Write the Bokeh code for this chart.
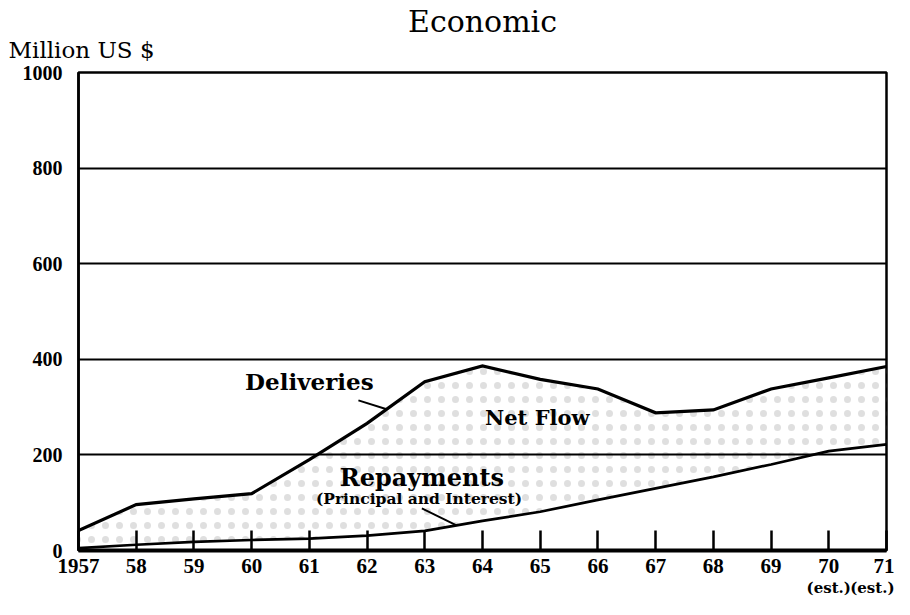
import numpy as np
from bokeh.plotting import figure
from bokeh.models import Range1d, FixedTicker, Label, ColumnDataSource, LinearAxis, Title
from bokeh.embed import file_html
from bokeh.resources import INLINE

# ---- data (million US $) ----
years = [1957, 1958, 1959, 1960, 1961, 1962, 1963, 1964, 1965, 1966, 1967, 1968, 1969, 1970, 1971]
deliveries = [42, 96, 108, 119, 190, 266, 353, 386, 358, 338, 288, 294, 338, 361, 385]
repayments = [5, 12, 18, 22, 25, 31, 41, 62, 81, 106, 130, 154, 180, 208, 222]
year_labels = ["1957", "58", "59", "60", "61", "62", "63", "64", "65", "66", "67", "68", "69", "70", "71"]
y_ticks = [0, 200, 400, 600, 800, 1000]
est_years = [1970, 1971]

SERIF = "DejaVu Serif"
TICKF = "Liberation Serif"

p = figure(width=894, height=599, x_range=Range1d(1957, 1971), y_range=Range1d(0, 1000),
           output_backend="svg", toolbar_location=None, title=None,
           min_border_left=78, min_border_right=8, min_border_top=72, min_border_bottom=46)
p.background_fill_color = "white"
p.border_fill_color = "white"
p.outline_line_color = "black"
p.outline_line_width = 2.5

# Net flow stipple between the two lines
p.varea(x=years, y1=repayments, y2=deliveries, fill_color=None, fill_alpha=0,
        hatch_pattern=".", hatch_color="#b0b0b0", hatch_alpha=0.4, hatch_scale=14,
        hatch_weight=0.5)

p.line(years, deliveries, line_color="black", line_width=3.2, line_join="miter")
p.line(years, repayments, line_color="black", line_width=2.7)

# grid
p.xgrid.visible = False
p.ygrid.ticker = FixedTicker(ticks=[200, 400, 600, 800])
p.ygrid.grid_line_color = "black"
p.ygrid.grid_line_width = 2.2
p.ygrid.grid_line_alpha = 1.0
p.ygrid.level = "overlay"

# axes
xa = p.xaxis[0]
xa.ticker = FixedTicker(ticks=years)
xa.major_label_overrides = {y: l for y, l in zip(years, year_labels)}
xa.major_tick_in = 20
xa.major_tick_out = 0
xa.major_tick_line_width = 2.5
xa.major_tick_line_color = "black"
xa.minor_tick_line_color = None
xa.axis_line_width = 4
xa.axis_line_color = "black"
xa.major_label_text_font = TICKF
xa.major_label_text_font_style = "bold"
xa.major_label_text_font_size = "21px"
xa.major_label_text_color = "black"
xa.major_label_standoff = 8

# "(est.)" under the last two years
xa2 = LinearAxis(ticker=FixedTicker(ticks=est_years),
                 major_label_overrides={y: "(est.)" for y in est_years})
xa2.axis_line_color = None
xa2.major_tick_line_color = None
xa2.minor_tick_line_color = None
xa2.major_tick_in = 0
xa2.major_tick_out = 0
xa2.major_label_standoff = 3
xa2.major_label_text_font = SERIF
xa2.major_label_text_font_style = "bold"
xa2.major_label_text_font_size = "15px"
xa2.major_label_text_color = "black"
p.add_layout(xa2, "below")

ya = p.yaxis[0]
ya.ticker = FixedTicker(ticks=y_ticks)
ya.major_tick_in = 0
ya.major_tick_out = 0
ya.minor_tick_line_color = None
ya.axis_line_width = 2.5
ya.axis_line_color = "black"
ya.major_label_text_font = TICKF
ya.major_label_text_font_style = "bold"
ya.major_label_text_font_size = "20px"
ya.major_label_text_color = "black"
ya.major_label_standoff = 16

# titles above the frame
p.add_layout(Title(text="Million US $", align="left", offset=-70, text_font=SERIF,
                   text_font_size="23px", text_font_style="normal", text_color="black",
                   standoff=20), "above")
p.add_layout(Title(text="Economic", align="center", offset=-12, text_font=SERIF,
                   text_font_size="30px", text_font_style="normal", text_color="black",
                   standoff=-28), "above")

def lab(x, y, t, size, style="bold", align="center", font=SERIF, baseline="middle"):
    p.add_layout(Label(x=x, y=y, text=t, text_font=font, text_font_size=size,
                       text_font_style=style, text_align=align, text_baseline=baseline,
                       text_color="black"))

# annotations
lab(1961.0, 353, "Deliveries", "23px")
lab(1964.95, 279, "Net Flow", "21px")
lab(1962.95, 153, "Repayments", "24px")
lab(1962.9, 109, "(Principal and Interest)", "15.5px")

# leader lines, ending on the series lines
dx_end = 1962.34
rx_end = 1963.55
lead = ColumnDataSource(dict(
    x0=[1961.85, 1962.95], y0=[314, 88],
    x1=[dx_end, rx_end],
    y1=[float(np.interp(dx_end, years, deliveries)), float(np.interp(rx_end, years, repayments))]))
p.segment(x0="x0", y0="y0", x1="x1", y1="y1", source=lead, line_color="black", line_width=2)

open("out.html", "w").write(file_html(p, INLINE))
